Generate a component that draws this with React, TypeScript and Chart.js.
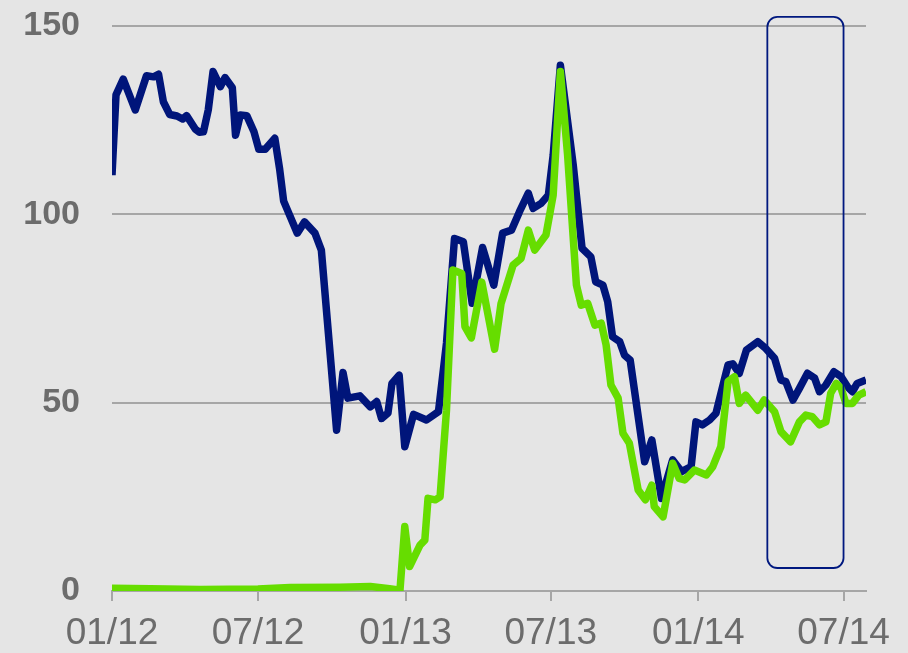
import React, { useEffect, useRef } from "react";
import { Chart, registerables } from "chart.js";

Chart.register(...registerables);

// x values are days since 2012-01-01
const blueDays = [
  0, 5, 14, 29, 43, 52, 58, 64, 72, 81, 88, 93, 104, 109, 114, 120, 126, 135, 141, 150,
  154, 160, 168, 177, 183, 191, 203, 209, 214, 231, 240, 253, 261, 280, 288, 294, 309, 322, 330, 336,
  344, 349, 358, 365, 376, 392, 407, 417, 427, 438, 449, 462, 476, 487, 498, 508, 519, 525, 535, 544,
  550, 559, 575, 586, 597, 603, 612, 618, 624, 633, 639, 646, 664, 673, 685, 699, 710, 722, 728, 736,
  745, 753, 768, 774, 782, 791, 805, 815, 826, 834, 840, 849, 857, 867, 876, 882, 890, 900, 909, 917,
  923, 929, 940,
];
const blueValues = [
  110.4, 131.7, 135.9, 127.7, 136.8, 136.5, 137.2, 129.9, 126.5, 126.1, 125.3, 126.2, 122.6, 121.8, 121.9, 127.7, 137.9, 133.9, 136.3, 133.6,
  121.0, 126.4, 126.2, 121.9, 117.3, 117.3, 120.2, 112.0, 103.5, 95.0, 98.0, 95.0, 90.5, 42.7, 58.0, 51.2, 51.8, 48.9, 50.3, 45.8,
  47.2, 55.1, 57.3, 38.3, 46.9, 45.4, 47.6, 65.8, 93.6, 92.7, 76.4, 91.2, 81.2, 95.0, 95.8, 100.7, 105.6, 101.6, 102.9, 105.1,
  115.7, 139.6, 113.1, 91.0, 88.7, 82.1, 81.2, 76.8, 67.5, 66.2, 62.6, 61.3, 34.3, 40.1, 24.6, 34.8, 31.7, 33.0, 44.9, 44.1,
  45.4, 47.2, 60.0, 60.3, 57.8, 64.0, 66.2, 64.4, 61.8, 56.0, 55.6, 50.7, 53.8, 57.8, 56.5, 52.9, 54.7, 58.2, 56.9, 54.2,
  52.9, 55.1, 56.0,
];

const greenDays = [
  0, 48, 110, 182, 222, 284, 322, 346, 359, 365, 371, 384, 390, 394, 403, 409, 417, 425, 436, 440,
  448, 461, 477, 485, 500, 510, 519, 527, 541, 550, 559, 568, 579, 585, 593, 602, 610, 616, 622, 631,
  637, 645, 656, 665, 673, 676, 687, 699, 707, 714, 726, 741, 749, 759, 768, 776, 782, 790, 805, 813,
  826, 834, 846, 857, 865, 873, 882, 890, 896, 903, 909, 915, 923, 931, 940,
];
const greenValues = [
  0.7, 0.6, 0.4, 0.5, 0.9, 1.0, 1.2, 0.6, 0.2, 17.1, 6.5, 12.2, 13.5, 24.6, 24.2, 25.0, 48.0, 85.2, 84.3, 70.2,
  67.2, 82.0, 64.2, 76.3, 86.5, 88.3, 95.8, 90.5, 94.5, 105.1, 137.9, 115.7, 81.2, 75.9, 76.4, 70.6, 71.1, 65.3, 54.7, 51.2,
  41.9, 39.2, 26.8, 24.2, 28.1, 22.4, 19.7, 33.9, 29.9, 29.5, 32.1, 30.8, 33.0, 38.3, 55.6, 56.9, 49.8, 52.0, 48.0, 50.7,
  47.6, 42.3, 39.6, 44.9, 46.7, 46.3, 44.1, 44.9, 52.5, 55.1, 53.8, 49.8, 49.8, 52.0, 52.9,
];

const xTickDays = [0, 182, 366, 547, 731, 912];
const xTickLabels = ["01/12", "07/12", "01/13", "07/13", "01/14", "07/14"];
const yTickValues = [0, 50, 100, 150];

// highlighted window (days, value range)
const highlightDays = [817, 912];
const highlightValues = [6.1, 152.4];

const BLUE = "#00157a";
const GREEN = "#66dd00";
const GRID = "#a6a6a6";
const TEXT = "#6c6c6c";
const BG = "#e5e5e5";

const highlightPlugin = {
  id: "highlightBox",
  afterDraw(chart: any) {
    const { ctx, scales } = chart;
    const x0 = scales.x.getPixelForValue(highlightDays[0]);
    const x1 = scales.x.getPixelForValue(highlightDays[1]);
    const y0 = scales.y.getPixelForValue(highlightValues[1]);
    const y1 = scales.y.getPixelForValue(highlightValues[0]);
    const r = 10;
    ctx.save();
    ctx.strokeStyle = "#00187f";
    ctx.lineWidth = 1.8;
    ctx.beginPath();
    ctx.moveTo(x0 + r, y0);
    ctx.lineTo(x1 - r, y0);
    ctx.arcTo(x1, y0, x1, y0 + r, r);
    ctx.lineTo(x1, y1 - r);
    ctx.arcTo(x1, y1, x1 - r, y1, r);
    ctx.lineTo(x0 + r, y1);
    ctx.arcTo(x0, y1, x0, y1 - r, r);
    ctx.lineTo(x0, y0 + r);
    ctx.arcTo(x0, y0, x0 + r, y0, r);
    ctx.closePath();
    ctx.stroke();
    ctx.restore();
  },
};

export default function App() {
  const canvasRef = useRef<HTMLCanvasElement | null>(null);

  useEffect(() => {
    document.body.style.margin = "0";
    document.body.style.background = BG;
    const canvas = canvasRef.current;
    if (!canvas) return;
    const chart = new Chart(canvas, {
      type: "line",
      data: {
        datasets: [
          {
            label: "green",
            data: greenDays.map((d, i) => ({ x: d, y: greenValues[i] })),
            borderColor: GREEN,
            borderWidth: 7.5,
            pointRadius: 0,
            tension: 0,
            borderJoinStyle: "round",
            fill: false,
          },
          {
            label: "blue",
            data: blueDays.map((d, i) => ({ x: d, y: blueValues[i] })),
            borderColor: BLUE,
            borderWidth: 7.5,
            pointRadius: 0,
            tension: 0,
            borderJoinStyle: "round",
            fill: false,
          },
        ],
      },
      options: {
        animation: false,
        responsive: false,
        devicePixelRatio: 1,
        layout: { padding: { top: 26, right: 42, left: 0, bottom: 0 } },
        plugins: { legend: { display: false }, tooltip: { enabled: false } },
        scales: {
          x: {
            type: "linear",
            min: 0,
            max: 940,
            afterBuildTicks: (scale: any) => {
              scale.ticks = xTickDays.map((v) => ({ value: v }));
            },
            afterFit: (scale: any) => {
              scale.height = 62;
            },
            ticks: {
              autoSkip: false,
              maxRotation: 0,
              padding: 14,
              color: TEXT,
              font: { family: "'Liberation Sans', Arial, sans-serif", size: 37, lineHeight: 1 },
              callback: (v: any) => {
                const i = xTickDays.indexOf(Number(v));
                return i >= 0 ? xTickLabels[i] : "";
              },
            },
            grid: {
              drawOnChartArea: false,
              drawTicks: true,
              tickLength: 10,
              color: GRID,
              lineWidth: 2,
            },
            border: { display: true, color: GRID, width: 2 },
          },
          y: {
            min: 0,
            max: 150,
            afterBuildTicks: (scale: any) => {
              scale.ticks = yTickValues.map((v) => ({ value: v }));
            },
            afterFit: (scale: any) => {
              scale.width = 112;
              scale.paddingTop = 20;
              scale.paddingBottom = 20;
            },
            ticks: {
              padding: 32,
              color: TEXT,
              font: { family: "'Liberation Sans', Arial, sans-serif", size: 34, weight: "bold" },
            },
            grid: { color: GRID, lineWidth: 2, drawTicks: false },
            border: { display: false },
          },
        },
      },
      plugins: [highlightPlugin],
    } as any);
    return () => chart.destroy();
  }, []);

  return (
    <div style={{ width: 908, height: 653, background: BG }}>
      <canvas ref={canvasRef} width={908} height={653} style={{ display: "block" }} />
    </div>
  );
}
